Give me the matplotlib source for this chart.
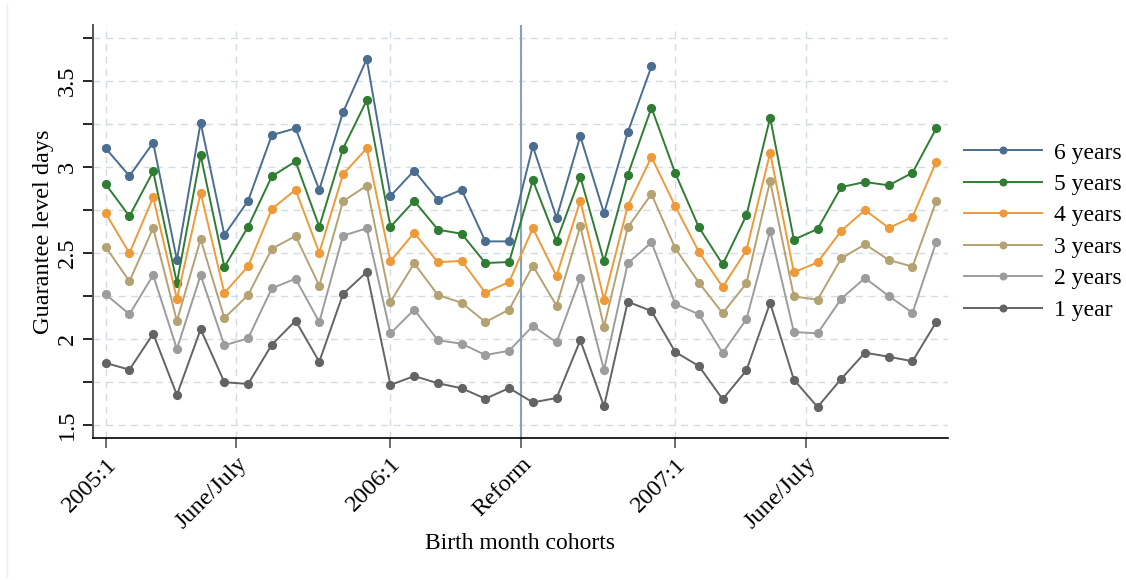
import matplotlib
matplotlib.use("Agg")
import matplotlib.pyplot as plt
from matplotlib.lines import Line2D
from matplotlib.ticker import MultipleLocator

plt.rcParams['font.family'] = ['Liberation Serif', 'DejaVu Serif']

# birth month cohorts 2005:1 .. 2007:12 (index positions)
cohorts = list(range(36))
tick_pos = [0, 5.5, 12, 17.5, 24, 29.5]
tick_labels = ['2005:1', 'June/July', '2006:1', 'Reform', '2007:1', 'June/July']
reform_pos = 17.5

years_6 = [3.107, 2.946, 3.140, 2.458, 3.256, 2.603, 2.802, 3.184, 3.223, 2.866, 3.316, 3.626,
           2.830, 2.977, 2.808, 2.866, 2.566, 2.566, 3.119, 2.703, 3.177, 2.729, 3.200, 3.584]
years_5 = [2.898, 2.712, 2.973, 2.324, 3.066, 2.417, 2.651, 2.944, 3.031, 2.651, 3.105, 3.386,
           2.651, 2.801, 2.634, 2.610, 2.440, 2.446, 2.921, 2.568, 2.942, 2.450, 2.953, 3.343,
           2.963, 2.647, 2.432, 2.717, 3.285, 2.576, 2.638, 2.882, 2.911, 2.892, 2.965, 3.223]
years_4 = [2.729, 2.497, 2.822, 2.231, 2.849, 2.266, 2.421, 2.754, 2.866, 2.500, 2.956, 3.107,
           2.450, 2.616, 2.444, 2.453, 2.267, 2.330, 2.642, 2.365, 2.802, 2.227, 2.771, 3.056,
           2.771, 2.504, 2.301, 2.514, 3.081, 2.386, 2.444, 2.628, 2.748, 2.644, 2.708, 3.029]
years_3 = [2.533, 2.334, 2.644, 2.103, 2.578, 2.120, 2.254, 2.523, 2.597, 2.308, 2.799, 2.890,
           2.215, 2.438, 2.254, 2.209, 2.097, 2.169, 2.424, 2.192, 2.653, 2.070, 2.647, 2.841,
           2.526, 2.326, 2.148, 2.322, 2.917, 2.246, 2.227, 2.467, 2.549, 2.458, 2.419, 2.799]
years_2 = [2.258, 2.142, 2.370, 1.940, 2.370, 1.962, 2.002, 2.293, 2.349, 2.097, 2.599, 2.642,
           2.031, 2.169, 1.991, 1.971, 1.905, 1.930, 2.074, 1.979, 2.353, 1.818, 2.438, 2.560,
           2.202, 2.142, 1.917, 2.113, 2.628, 2.039, 2.031, 2.233, 2.353, 2.248, 2.151, 2.562]
year_1 = [1.859, 1.820, 2.029, 1.673, 2.055, 1.747, 1.737, 1.965, 2.105, 1.866, 2.260, 2.388,
          1.731, 1.783, 1.741, 1.712, 1.651, 1.713, 1.630, 1.655, 1.991, 1.607, 2.215, 2.161,
          1.923, 1.841, 1.648, 1.816, 2.208, 1.762, 1.603, 1.767, 1.919, 1.895, 1.869, 2.097]

series = [
    ('6 years', years_6, '#4a6d90'),
    ('5 years', years_5, '#2f7d32'),
    ('4 years', years_4, '#ee9a38'),
    ('3 years', years_3, '#b5a272'),
    ('2 years', years_2, '#9c9c9c'),
    ('1 year', year_1, '#636363'),
]

fig = plt.figure(figsize=(11.26, 5.8), dpi=100)
ax = fig.add_axes([0.0823, 0.2443, 0.7597, 0.7126])

for label, vals, color in series:
    ax.plot(cohorts[:len(vals)], vals, color=color, lw=1.4, marker='o', ms=5.6,
            label=label, zorder=3)

ax.axvline(reform_pos, color='#8ba1b9', lw=1.5, zorder=2)

ax.set_xlim(-0.55, 35.5)
ax.set_xticks(tick_pos)
ax.set_xticklabels(tick_labels, rotation=45, ha='right', rotation_mode='anchor', fontsize=17.5)
ax.yaxis.set_minor_locator(MultipleLocator(0.25))
ax.set_yticks([1.5, 2, 2.5, 3, 3.5])
ax.set_yticklabels(['1.5', '2', '2.5', '3', '3.5'], rotation=90, va='center', fontsize=17.5)
ax.set_ylim(1.421, 3.824)

ax.grid(True, which='both', axis='y', color='#d3dbe4', ls=(0, (5, 4)), lw=1.0)
ax.grid(True, which='major', axis='x', color='#d3dbe4', ls=(0, (5, 4)), lw=1.0)
ax.set_axisbelow(True)

ax.tick_params(axis='y', which='both', length=7, width=1.2, color='black', pad=4)
ax.tick_params(axis='x', length=7, width=1.2, color='#555555', pad=4)

for s in ['top', 'right']:
    ax.spines[s].set_visible(False)
ax.spines['left'].set_color('#555555')
ax.spines['left'].set_linewidth(1.4)
ax.spines['bottom'].set_color('black')
ax.spines['bottom'].set_linewidth(1.2)

ax.set_xlabel('Birth month cohorts', fontsize=17, labelpad=0)
ax.set_ylabel('Guarantee level days', fontsize=17.5, labelpad=2)

fig.legend(loc='center left', bbox_to_anchor=(0.856, 0.601), frameon=False,
           fontsize=17, handlelength=3.3, handletextpad=0.5, labelspacing=0.42,
           borderpad=0, borderaxespad=0, markerscale=0.85)

# faint frame line at the left edge
fig.add_artist(Line2D([0.0065, 0.0065], [0.005, 0.992], color='#e6eef0', lw=1.0))

fig.savefig('out.png', dpi=100)
